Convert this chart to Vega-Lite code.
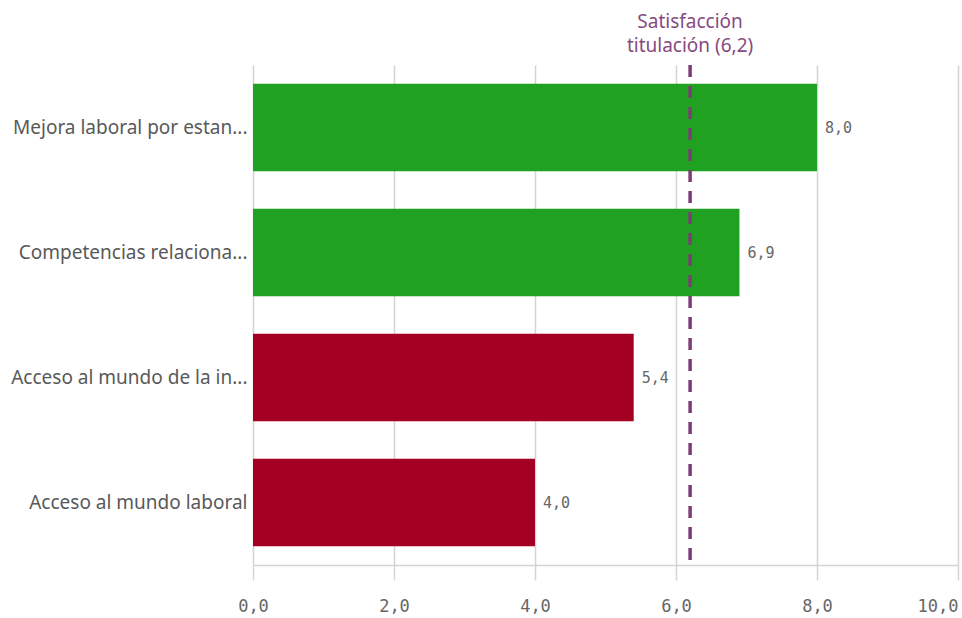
{
  "$schema": "https://vega.github.io/schema/vega-lite/v6.json",
  "autosize": {"type": "none"},
  "width": 705,
  "height": 500,
  "padding": {"left": 253, "top": 65, "right": 4, "bottom": 53},
  "background": "white",
  "config": {
    "view": {"stroke": null},
    "locale": {"number": {"decimal": ",", "thousands": ".", "grouping": [3], "currency": ["", " €"]}}
  },
  "datasets": {
    "bars": [
      {"categoria": "Mejora laboral por estan...", "valor": 8.0, "grupo": "alto"},
      {"categoria": "Competencias relaciona...", "valor": 6.9, "grupo": "alto"},
      {"categoria": "Acceso al mundo de la in...", "valor": 5.4, "grupo": "bajo"},
      {"categoria": "Acceso al mundo laboral", "valor": 4.0, "grupo": "bajo"}
    ],
    "ref": [{"valor": 6.2, "etiqueta": ["Satisfacción", "titulación (6,2)"]}]
  },
  "layer": [
    {
      "data": {"name": "bars"},
      "mark": {"type": "bar"},
      "encoding": {
        "y": {
          "field": "categoria", "type": "nominal", "sort": null,
          "scale": {"paddingInner": 0.3, "paddingOuter": 0.15},
          "axis": {"title": null, "domain": false, "ticks": false, "grid": false,
                   "labelFont": "Noto Sans", "labelFontSize": 19, "labelColor": "#595959",
                   "labelPadding": 6, "labelLimit": 260}
        },
        "x": {
          "field": "valor", "type": "quantitative",
          "scale": {"domain": [0, 10], "nice": false},
          "axis": {"title": null, "values": [0, 2, 4, 6, 8, 10], "format": ".1f",
                   "grid": true, "gridColor": "#d4d4d4", "gridWidth": 1.5,
                   "domain": true, "domainColor": "#d4d4d4", "domainWidth": 1.5,
                   "ticks": true, "tickColor": "#d4d4d4", "tickSize": 15, "tickWidth": 1.5,
                   "labelFont": "DejaVu Sans Mono", "labelFontSize": 17, "labelColor": "#666666",
                   "labelPadding": 18, "labelFlush": false,
                   "labelAlign": {"expr": "datum.value == 10 ? 'right' : 'center'"}}
        },
        "color": {
          "field": "grupo", "type": "nominal",
          "scale": {"domain": ["alto", "bajo"], "range": ["#21a121", "#a30023"]},
          "legend": null
        }
      }
    },
    {
      "data": {"name": "bars"},
      "mark": {"type": "text", "align": "left", "baseline": "middle", "dx": 8,
               "font": "DejaVu Sans Mono", "fontSize": 15, "color": "#666666"},
      "encoding": {
        "y": {"field": "categoria", "type": "nominal", "sort": null},
        "x": {"field": "valor", "type": "quantitative"},
        "text": {"field": "valor", "type": "quantitative", "format": ".1f"}
      }
    },
    {
      "data": {"name": "ref"},
      "mark": {"type": "rule", "color": "#7d3c78", "strokeWidth": 3.5, "strokeDash": [12, 9]},
      "encoding": {
        "x": {"field": "valor", "type": "quantitative"}
      }
    },
    {
      "data": {"name": "ref"},
      "mark": {"type": "text", "align": "center", "baseline": "bottom", "dy": -33,
               "font": "Noto Sans", "fontSize": 19, "color": "#864a82", "lineHeight": 24},
      "encoding": {
        "x": {"field": "valor", "type": "quantitative"},
        "y": {"value": 0},
        "text": {"field": "etiqueta"}
      }
    }
  ]
}
